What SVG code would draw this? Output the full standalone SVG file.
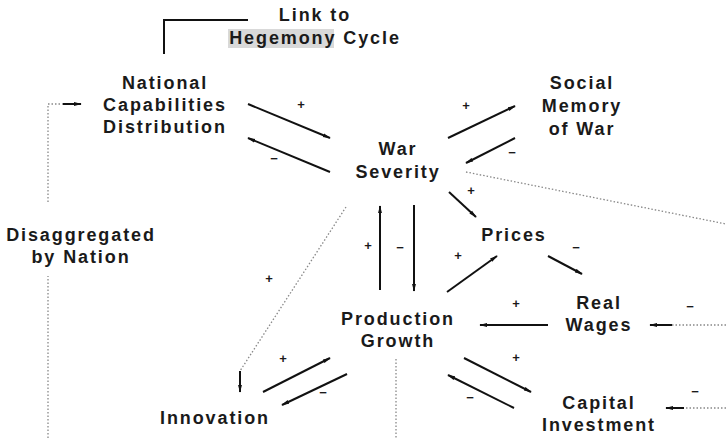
<svg xmlns="http://www.w3.org/2000/svg" width="726" height="438" viewBox="0 0 726 438">
<style>
text{font-family:"Liberation Sans",Arial,sans-serif;font-weight:bold;font-size:18px;letter-spacing:1.9px;fill:#1a1a1a;text-anchor:middle}
.sg{font-size:13px;letter-spacing:0}
.a{stroke:#111;stroke-width:2;fill:none;marker-end:url(#ah)}
.d{stroke:#888;stroke-width:1.3;fill:none;stroke-dasharray:1.5 2}
.s{stroke:#111;stroke-width:2;fill:none}
</style>
<defs>
<marker id="ah" viewBox="0 0 10 6" refX="9" refY="3" markerWidth="8" markerHeight="5" markerUnits="userSpaceOnUse" orient="auto">
<path d="M0,0.5 L10,3 L0,5.5 Z" fill="#111"/>
</marker>
</defs>
<rect width="726" height="438" fill="#fff"/>
<g id="link">
<rect x="228" y="29" width="106" height="19" fill="#d9d9d9"/>
<text x="315" y="21">Link to</text>
<text x="315" y="44">Hegemony Cycle</text>
</g>
<g id="national">
<text x="165" y="89">National</text>
<text x="165" y="111">Capabilities</text>
<text x="165" y="133">Distribution</text>
</g>
<g id="social">
<text x="582" y="89">Social</text>
<text x="582" y="112">Memory</text>
<text x="582" y="135">of War</text>
</g>
<g id="war">
<text x="398" y="155">War</text>
<text x="398" y="178">Severity</text>
</g>
<g id="prices">
<text x="514" y="241">Prices</text>
</g>
<g id="disagg">
<text x="81" y="241">Disaggregated</text>
<text x="81" y="263">by Nation</text>
</g>
<g id="wages">
<text x="599" y="309">Real</text>
<text x="599" y="331">Wages</text>
</g>
<g id="production">
<text x="398" y="325">Production</text>
<text x="398" y="347">Growth</text>
</g>
<g id="capital">
<text x="599" y="409">Capital</text>
<text x="599" y="431">Investment</text>
</g>
<g id="innovation">
<text x="215" y="424">Innovation</text>
</g>
<g id="connectors">
<path class="s" d="M164,54 V20 H248"/>
<path class="a" d="M248,104 L330,138"/>
<path class="a" d="M330,172 L248,138"/>
<path class="a" d="M448,138 L515,106"/>
<path class="a" d="M515,138 L466,163"/>
<path class="a" d="M449,192 L476,217"/>
<path class="d" d="M466,172 L726,224"/>
<path class="a" d="M380,290 L380,206"/>
<path class="a" d="M414,205 L414,291"/>
<path class="a" d="M447,292 L497,256"/>
<path class="a" d="M548,256 L582,274"/>
<path class="a" d="M548,325 L480,325"/>
<path class="d" d="M726,325 L668,325"/>
<path class="a" d="M672,325 L650,325"/>
<path class="a" d="M464,358 L531,392"/>
<path class="a" d="M514,408 L448,375"/>
<path class="d" d="M726,408 L682,408"/>
<path class="a" d="M684,408 L666,408"/>
<path class="d" d="M396,359 L396,438"/>
<path class="a" d="M263,392 L330,358"/>
<path class="a" d="M347,374 L282,405"/>
<path class="d" d="M346,207 L240,371"/>
<path class="a" d="M240,371 L240,392"/>
<path class="d" d="M48,438 L48,276"/>
<path class="d" d="M48,202 L48,104 L64,104"/>
<path class="a" d="M63,104 L81,104"/>
</g>
<g id="signs">
<text class="sg" x="301" y="109">+</text>
<text class="sg" x="274" y="163">−</text>
<text class="sg" x="466" y="110">+</text>
<text class="sg" x="512" y="157">−</text>
<text class="sg" x="471" y="195">+</text>
<text class="sg" x="368" y="250">+</text>
<text class="sg" x="400" y="252">−</text>
<text class="sg" x="458" y="260">+</text>
<text class="sg" x="576" y="252">−</text>
<text class="sg" x="516" y="308">+</text>
<text class="sg" x="690" y="311">−</text>
<text class="sg" x="516" y="362">+</text>
<text class="sg" x="470" y="402">−</text>
<text class="sg" x="695" y="396">−</text>
<text class="sg" x="283" y="363">+</text>
<text class="sg" x="323" y="397">−</text>
<text class="sg" x="269" y="283">+</text>
</g>
</svg>
